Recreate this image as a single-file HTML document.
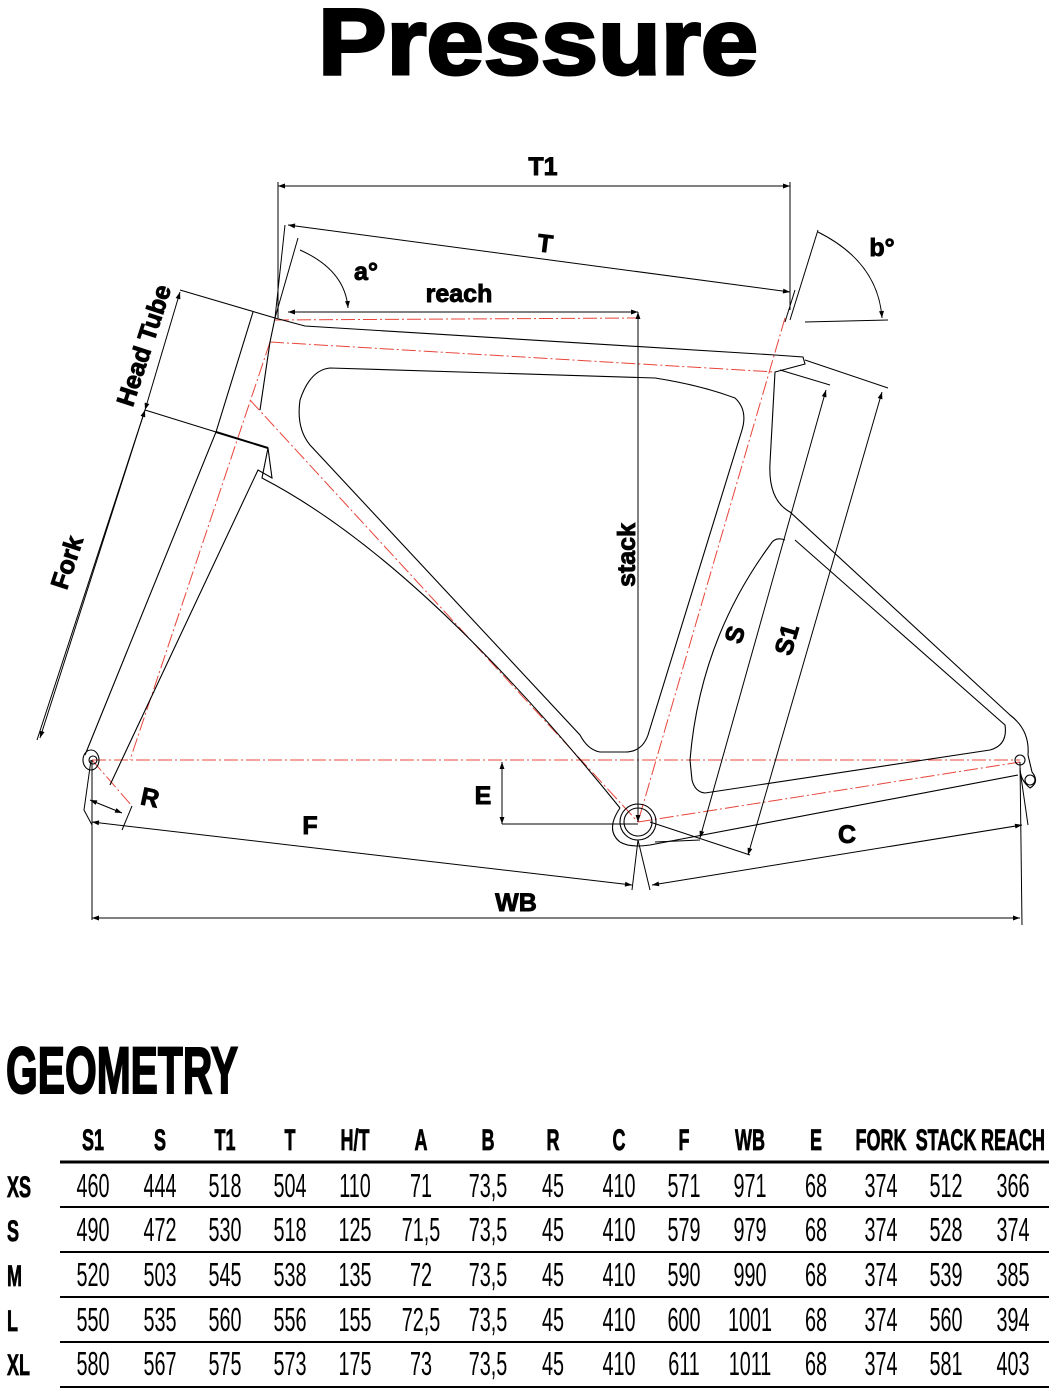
<!DOCTYPE html>
<html><head><meta charset="utf-8"><style>
html,body{margin:0;padding:0;background:#fff;}
body{width:1049px;height:1392px;position:relative;overflow:hidden;}
svg{position:absolute;left:0;top:0;}
</style></head><body>
<svg width="1049" height="1392" viewBox="0 0 1049 1392" xmlns="http://www.w3.org/2000/svg">
<defs>
<marker id="a" viewBox="0 0 10 10" refX="10" refY="5" markerWidth="9" markerHeight="7" orient="auto-start-reverse" markerUnits="userSpaceOnUse"><path d="M0,1.5 L10,5 L0,8.5z" fill="#000"/></marker>
</defs>
<text x="538" y="74" text-anchor="middle" font-family="Liberation Sans, sans-serif" font-weight="bold" font-size="94" stroke="#000" stroke-width="3" textLength="440" lengthAdjust="spacingAndGlyphs">Pressure</text>

<g stroke="#e8443a" stroke-width="1" fill="none" stroke-dasharray="14,3,2,3">
<path d="M92,760 L1020,760"/>
<path d="M92,760 L132,806"/>
<path d="M275,320 L638,318"/>
<path d="M270,342 L775,372"/>
<path d="M270,342 L130,760"/>
<path d="M250,400 L638,822"/>
<path d="M785,318 L638,822"/>
<path d="M638,822 L1020,762"/>
</g>

<g stroke="#000" stroke-width="1.1" fill="none">
<path d="M253,312 L216,432 L85,755"/>
<path d="M180,290 L275,318 L305,326 L775,355 L803,357 L805,364 L775,372 L770,463 Q768,500 790,512 L1010,715 Q1030,730 1028,755"/>
<path d="M275,318 L270,342 L260,410"/>
<path d="M145,410 L216,432 L268,448 L272,478 L258,470 L110,785"/>
<path d="M216,432 L268,448" stroke-width="2"/>
<path d="M268,448 L262,478 Q420,560 620,808"/>
<path d="M330,368 L655,378 Q700,385 735,398 Q748,410 742,430 L648,735 Q642,752 625,752 L600,752 Q588,750 580,735 L310,445 Q296,428 300,400 Q310,370 330,368z"/>
<path d="M785,540 Q775,536 770,545 Q700,640 690,760 L692,780 Q695,792 705,793 L990,750 Q1008,745 1005,725 L795,540"/>
<path d="M620,842 Q630,848 650,845 L1018,775"/>
<path d="M620,808 Q605,830 620,842"/>
<circle cx="638" cy="822" r="18"/><circle cx="638" cy="822" r="14"/>
<ellipse cx="91" cy="760" rx="8" ry="10"/><circle cx="93" cy="760" r="4"/>
<circle cx="1020" cy="760" r="5"/><circle cx="1030" cy="780" r="5"/>
<path d="M1028,755 L1032,772 Q1040,782 1030,788 Q1020,780 1020,768"/>
</g>

<g stroke="#000" stroke-width="1" fill="none">
<path d="M278,182 L278,318 M790,182 L790,310"/>
<path d="M278,186 L790,186" marker-start="url(#a)" marker-end="url(#a)"/>
<path d="M285,225 L275,318 M795,290 L785,322"/>
<path d="M288,225 L790,292" marker-start="url(#a)" marker-end="url(#a)"/>
<path d="M288,312 L638,312" marker-start="url(#a)" marker-end="url(#a)"/>
<path d="M298,238 L275,318"/>
<path d="M300,250 Q345,270 348,308" marker-end="url(#a)"/>
<path d="M818,230 L790,320 M805,322 L888,320"/>
<path d="M818,232 Q878,262 882,318" marker-end="url(#a)"/>
<path d="M638,312 L638,822" marker-start="url(#a)" marker-end="url(#a)"/>
<path d="M145,410 L37,740" />
<path d="M180,292 L145,410" marker-start="url(#a)" marker-end="url(#a)"/>
<path d="M145,410 L40,738" marker-start="url(#a)" marker-end="url(#a)"/>
<path d="M780,370 L830,385 M805,360 L888,388"/>
<path d="M826,390 L700,838" marker-start="url(#a)" marker-end="url(#a)"/>
<path d="M882,392 L748,855" marker-start="url(#a)" marker-end="url(#a)"/>
<path d="M650,822 L750,855 M655,842 L700,840"/>
<path d="M502,824 L638,824"/>
<path d="M502,762 L502,824" marker-start="url(#a)" marker-end="url(#a)"/>
<path d="M91,760 L84,810 L92,825 M92,760 L92,920 M1020,762 L1022,925"/>
<path d="M90,800 L122,813" marker-start="url(#a)" marker-end="url(#a)"/>
<path d="M132,806 L122,830"/>
<path d="M92,822 L632,885" marker-start="url(#a)" marker-end="url(#a)"/>
<path d="M638,840 L632,890 M638,840 L650,890"/>
<path d="M652,885 L1022,825" marker-start="url(#a)" marker-end="url(#a)"/>
<path d="M1020,770 L1028,825"/>
<path d="M92,918 L1020,918" marker-start="url(#a)" marker-end="url(#a)"/>
</g>

<g font-family="Liberation Sans, sans-serif" font-weight="bold" font-size="25" fill="#000" stroke="#000" stroke-width="0.9">
<text x="543" y="175" text-anchor="middle">T1</text>
<text x="545" y="252" text-anchor="middle" transform="rotate(7 545 244)">T</text>
<text x="366" y="280" text-anchor="middle">a°</text>
<text x="882" y="256" text-anchor="middle">b°</text>
<text x="459" y="302" text-anchor="middle">reach</text>
<text x="0" y="0" text-anchor="middle" transform="translate(635,555) rotate(-90)">stack</text>
<text x="0" y="0" text-anchor="middle" transform="translate(152,348) rotate(-72)">Head Tube</text>
<text x="0" y="0" text-anchor="middle" transform="translate(75,565) rotate(-72)">Fork</text>
<text x="0" y="0" text-anchor="middle" transform="translate(743,637) rotate(-74)">S</text>
<text x="0" y="0" text-anchor="middle" transform="translate(795,642) rotate(-74)">S1</text>
<text x="483" y="804" text-anchor="middle">E</text>
<text x="150" y="806" text-anchor="middle" transform="rotate(12 150 798)">R</text>
<text x="310" y="834" text-anchor="middle">F</text>
<text x="847" y="843" text-anchor="middle">C</text>
<text x="516" y="911" text-anchor="middle">WB</text>
</g>

<text x="6" y="1093" font-family="Liberation Sans, sans-serif" font-weight="bold" font-size="66" stroke="#000" stroke-width="2" textLength="232" lengthAdjust="spacingAndGlyphs">GEOMETRY</text>

<g stroke="#000">
<line x1="60" y1="1162" x2="1049" y2="1162" stroke-width="3"/>
<line x1="60" y1="1207" x2="1049" y2="1207" stroke-width="2"/>
<line x1="60" y1="1252" x2="1049" y2="1252" stroke-width="2"/>
<line x1="60" y1="1297" x2="1049" y2="1297" stroke-width="2"/>
<line x1="60" y1="1342" x2="1049" y2="1342" stroke-width="2"/>
<line x1="60" y1="1387" x2="1049" y2="1387" stroke-width="2"/>
</g>
<g id="tbl" font-family="Liberation Sans, sans-serif" fill="#000"></g>
</svg>
<script>
(function(){
var cx=[93,160,225,290,355,421,488,553,619,684,750,816,881,946,1013];
var hdr=["S1","S","T1","T","H/T","A","B","R","C","F","WB","E","FORK","STACK","REACH"];
var rows=[["XS","460","444","518","504","110","71","73,5","45","410","571","971","68","374","512","366"],
["S","490","472","530","518","125","71,5","73,5","45","410","579","979","68","374","528","374"],
["M","520","503","545","538","135","72","73,5","45","410","590","990","68","374","539","385"],
["L","550","535","560","556","155","72,5","73,5","45","410","600","1001","68","374","560","394"],
["XL","580","567","575","573","175","73","73,5","45","410","611","1011","68","374","581","403"]];
var g=document.getElementById('tbl'),ns="http://www.w3.org/2000/svg";
function t(x,y,s,sz,bold,anchor){var e=document.createElementNS(ns,'text');e.setAttribute('x',0);e.setAttribute('y',0);
e.setAttribute('text-anchor',anchor||'middle');e.setAttribute('font-size',sz);if(bold){e.setAttribute('font-weight','bold');e.setAttribute('stroke','#000');e.setAttribute('stroke-width','0.8');}
e.setAttribute('transform','translate('+x+','+y+') scale(0.6,1)');e.textContent=s;g.appendChild(e);}
hdr.forEach(function(h,i){t(cx[i],1150,h,30,true);});
var ry=[1197,1241,1286,1331,1375];
rows.forEach(function(r,j){t(7,ry[j],r[0],30,true,'start');for(var i=1;i<r.length;i++)t(cx[i-1],ry[j],r[i],33,false);});
})();
</script>
</body></html>
